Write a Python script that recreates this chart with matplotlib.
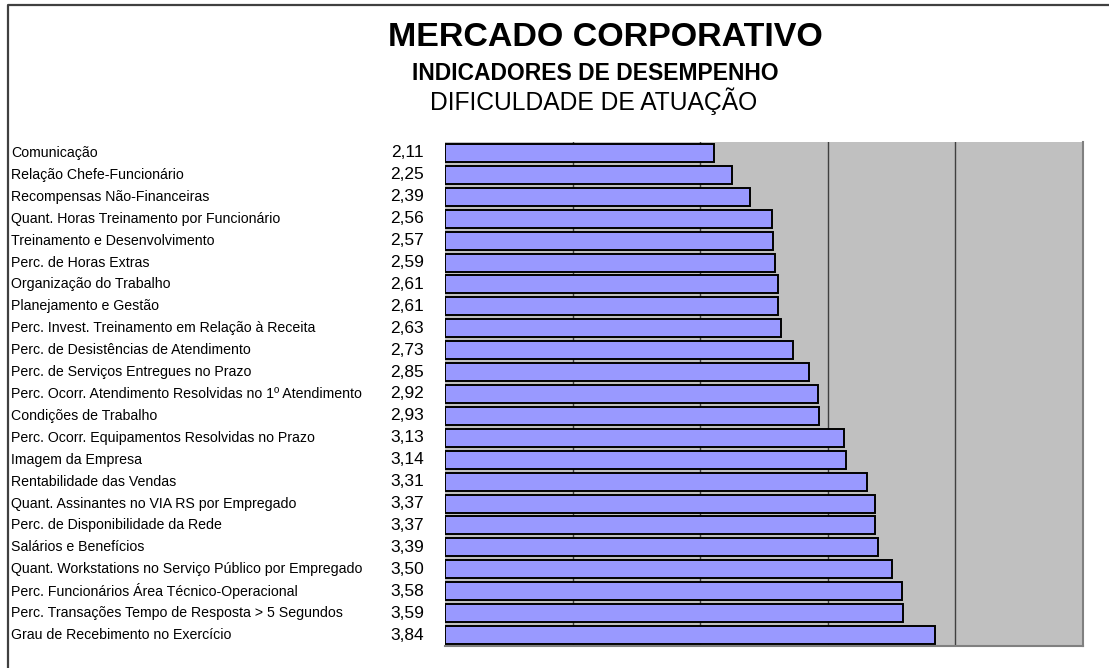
import matplotlib
matplotlib.use("Agg")
import matplotlib.pyplot as plt
from matplotlib.lines import Line2D
import matplotlib.transforms as mtransforms

categories = [
    "Comunicação",
    "Relação Chefe-Funcionário",
    "Recompensas Não-Financeiras",
    "Quant. Horas Treinamento por Funcionário",
    "Treinamento e Desenvolvimento",
    "Perc. de Horas Extras",
    "Organização do Trabalho",
    "Planejamento e Gestão",
    "Perc. Invest. Treinamento em Relação à Receita",
    "Perc. de Desistências de Atendimento",
    "Perc. de Serviços Entregues no Prazo",
    "Perc. Ocorr. Atendimento Resolvidas no 1º Atendimento",
    "Condições de Trabalho",
    "Perc. Ocorr. Equipamentos Resolvidas no Prazo",
    "Imagem da Empresa",
    "Rentabilidade das Vendas",
    "Quant. Assinantes no VIA RS por Empregado",
    "Perc. de Disponibilidade da Rede",
    "Salários e Benefícios",
    "Quant. Workstations no Serviço Público por Empregado",
    "Perc. Funcionários Área Técnico-Operacional",
    "Perc. Transações Tempo de Resposta > 5 Segundos",
    "Grau de Recebimento no Exercício",
]
values = [2.11, 2.25, 2.39, 2.56, 2.57, 2.59, 2.61, 2.61, 2.63, 2.73, 2.85,
          2.92, 2.93, 3.13, 3.14, 3.31, 3.37, 3.37, 3.39, 3.50, 3.58, 3.59, 3.84]
value_labels = [f"{v:.2f}".replace(".", ",") for v in values]
x_ticks = [1, 2, 3, 4]

plt.rcParams['font.family'] = ['Liberation Sans', 'DejaVu Sans']

W, H = 1109, 668
fig = plt.figure(figsize=(W / 100, H / 100), dpi=100)
fig.patch.set_facecolor("white")

ax = fig.add_axes([445 / W, 22 / H, 638 / W, 504 / H])
ax.set_facecolor("#C0C0C0")
ax.set_xlim(0, 5)
ax.set_ylim(len(categories) - 0.5, -0.5)

for xt in x_ticks:
    ax.axvline(xt, color="#404040", lw=1.0, zorder=1)

ypos = list(range(len(categories)))
ax.barh(ypos, values, height=0.82, color="#9999FF", edgecolor="black",
        linewidth=1.4, zorder=2)

for s in ["top", "left"]:
    ax.spines[s].set_visible(False)
for s in ["right", "bottom"]:
    ax.spines[s].set_color("#808080")
    ax.spines[s].set_linewidth(1.5)
ax.set_xticks([])
ax.set_yticks([])

trans = mtransforms.blended_transform_factory(fig.transFigure, ax.transData)
for y, lab, vl in zip(ypos, categories, value_labels):
    ax.text(11 / W, y, lab, transform=trans, ha="left", va="center",
            fontsize=10.2, color="black", clip_on=False)
    ax.text(424 / W, y, vl, transform=trans, ha="right", va="center",
            fontsize=12.5, color="black", clip_on=False)

# titles
fig.text(605 / W, 1 - 46 / H, "MERCADO CORPORATIVO", ha="center", va="baseline",
         fontsize=24.5, fontweight="bold")
fig.text(595 / W, 1 - 80 / H, "INDICADORES DE DESEMPENHO", ha="center", va="baseline",
         fontsize=16.5, fontweight="bold")
fig.text(594 / W, 1 - 110 / H, "DIFICULDADE DE ATUAÇÃO", ha="center", va="baseline",
         fontsize=17.7)

# figure border (left and top)
fig.add_artist(Line2D([7.5 / W, 7.5 / W, 1.0], [0.0, 1 - 4.5 / H, 1 - 4.5 / H],
                      transform=fig.transFigure, color="#404040", lw=1.6))

fig.savefig("out.png", dpi=100)
